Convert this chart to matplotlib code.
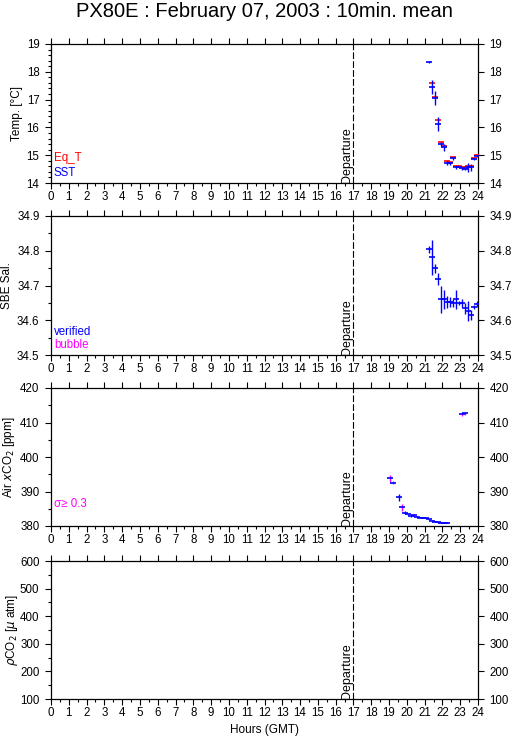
import matplotlib
matplotlib.use("Agg")
import matplotlib.pyplot as plt
import matplotlib.transforms as mtransforms
from matplotlib.ticker import MultipleLocator

plt.rcParams['font.family'] = ['Liberation Sans', 'DejaVu Sans']

# ---------------- data ----------------
title = "PX80E : February 07, 2003 : 10min. mean"
hour_ticks = list(range(0, 25))
departure_hour = 17

temp_hours = [21.25, 21.42, 21.58, 21.75, 21.92, 22.08, 22.25, 22.42, 22.58,
              22.75, 22.92, 23.08, 23.25, 23.42, 23.58, 23.75, 23.92]
eq_t = [None, 17.59, 17.10, 16.26, 15.46, 15.34, 14.80, 14.74, 14.92,
        14.61, 14.62, 14.56, 14.54, 14.61, 14.62, 14.89, 15.02]
sst = [18.36, 17.46, 17.05, 16.11, 15.40, 15.28, 14.71, 14.71, 14.89,
       14.56, 14.59, 14.53, 14.50, 14.56, 14.56, 14.86, 14.98]
sst_sd = [0.04, 0.25, 0.25, 0.25, 0.08, 0.12, 0.08, 0.06, 0.05,
          0.05, 0.03, 0.05, 0.05, 0.17, 0.12, 0.03, 0.03]

sal_hours = temp_hours
sal = [34.804, 34.781, 34.750, 34.718, 34.660, 34.660, 34.653, 34.653, 34.649,
       34.660, 34.649, 34.649, 34.634, 34.627, 34.615, 34.637, 34.646]
sal_sd = [0.010, 0.050, 0.013, 0.017, 0.040, 0.027, 0.018, 0.014, 0.012,
          0.027, 0.005, 0.012, 0.016, 0.029, 0.015, 0.006, 0.008]

air_hours = [19.08, 19.25, 19.58, 19.75, 19.92, 20.08, 20.25, 20.42, 20.58,
             20.75, 20.92, 21.08, 21.25, 21.42, 21.58, 21.75, 21.92, 22.08,
             22.25, 23.08, 23.25]
air_xco2 = [393.8, 392.6, 388.3, 385.4, 383.9, 383.4, 382.9, 383.1, 382.7,
            382.3, 382.3, 382.3, 381.9, 381.5, 381.3, 381.1, 381.0, 381.0,
            381.0, 412.4, 412.7]
air_sd = [1.0, 0.5, 1.0, 1.0, 0.4, 0.2, 0.2, 0.4, 0.1,
          0.1, 0.1, 0.1, 0.1, 0.1, 0.1, 0.1, 0.1, 0.1,
          0.1, 0.4, 0.4]
air_high_sd = [True, True, False, True, False, False, False, True, False,
               False, False, False, False, False, False, False, False, False,
               False, True, True]

ylabels = ["Temp. [°C]", "SBE Sal.", r"Air $x$CO$_2$ [ppm]", r"$\rho$CO$_2$ [$\mu$ atm]"]
ylabel_x = [17, 7, 9, 12]
ylims = [(14, 19), (34.5, 34.9), (380, 420), (100, 600)]
ymajor = [1, 0.1, 10, 100]
yminor = [0.2, 0.05, 5, 50]
yfmt = ["{:.0f}", "{:.1f}", "{:.0f}", "{:.0f}"]

BLUE = '#0000ff'
RED = '#ff0000'
MAG = '#ff00ff'

W, H = 515, 739
fig = plt.figure(figsize=(W / 100, H / 100), dpi=100)

ax_left, ax_right = 51, 478
tops = [44, 216, 388, 561]
bottoms = [183, 355, 526, 699]
AW = ax_right - ax_left

axes = []
for i in range(4):
    ax = fig.add_axes([ax_left / W, 1 - bottoms[i] / H,
                       AW / W, (bottoms[i] - tops[i]) / H])
    axes.append(ax)
    ax.set_xlim(0, 24)
    ax.set_ylim(*ylims[i])
    ax.set_xticks(hour_ticks)
    ax.set_xticklabels([str(h) for h in hour_ticks])
    ax.xaxis.set_minor_locator(MultipleLocator(0.5))
    ax.yaxis.set_minor_locator(MultipleLocator(yminor[i]))
    lo, hi = ylims[i]
    n = int(round((hi - lo) / ymajor[i]))
    yt = [lo + k * ymajor[i] for k in range(n + 1)]
    ax.set_yticks(yt)
    ax.set_yticklabels([yfmt[i].format(v) for v in yt])
    ax.tick_params(axis='both', which='both', direction='out', width=0.8,
                   colors='black', labelsize=8.3)
    ax.tick_params(axis='both', which='major', length=4.3)
    ax.tick_params(axis='both', which='minor', length=2.2)
    ax.tick_params(axis='x', top=True, labeltop=False, bottom=True,
                   labelbottom=True, pad=1.5)
    ax.tick_params(axis='y', left=True, right=True, labelleft=True,
                   labelright=True, pad=4)
    for s in ax.spines.values():
        s.set_linewidth(0.9)
    ax.axvline(departure_hour, color='black', lw=0.8, dashes=(6, 2))
    trans = mtransforms.blended_transform_factory(ax.transData, ax.transAxes)
    ax.text(departure_hour, 0.0, "Departure", rotation=90, ha='right',
            va='bottom', fontsize=9, transform=trans)
    yc = (tops[i] + bottoms[i]) / 2
    fig.text(ylabel_x[i] / W, 1 - yc / H, ylabels[i], rotation=90, ha='center',
             va='center', fontsize=8.5)

# panel 1: temperatures
ax = axes[0]
eq_h = [h for h, v in zip(temp_hours, eq_t) if v is not None]
eq_v = [v for v in eq_t if v is not None]
ax.plot(eq_h, eq_v, ls='none', marker='_', ms=3.8, mew=1.2, color=RED, zorder=3)
ax.errorbar(temp_hours, sst, yerr=sst_sd, fmt='_', ms=3.8, mew=1.2,
            color=BLUE, ecolor=BLUE, elinewidth=1, capsize=0, zorder=4)
ax.text(3 / AW, (183 - 158) / 139, "Eq_T", color=RED, fontsize=8.3, ha='left',
        va='center', transform=ax.transAxes)
ax.text(3 / AW, (183 - 172.7) / 139, "SST", color=BLUE,
        fontsize=8.3, ha='left', va='center', transform=ax.transAxes)

# panel 2: salinity
ax = axes[1]
ax.errorbar(sal_hours, sal, yerr=sal_sd, fmt='_', ms=3.8, mew=1.2,
            color=BLUE, ecolor=BLUE, elinewidth=1, capsize=0, zorder=4)
ax.text(3 / AW, (355 - 332.3) / 139, "verified", color=BLUE,
        fontsize=8.3, ha='left', va='center', transform=ax.transAxes)
ax.text(3 / AW, (355 - 345) / 139, "bubble", color=MAG,
        fontsize=8.3, ha='left', va='center', transform=ax.transAxes)

# panel 3: air xCO2
ax = axes[2]
for h, v, s, f in zip(air_hours, air_xco2, air_sd, air_high_sd):
    ax.errorbar([h], [v], yerr=[s], fmt='none', ecolor=MAG if f else BLUE,
                elinewidth=1, capsize=0, zorder=3)
ax.plot(air_hours, air_xco2, ls='none', marker='_', ms=3.8, mew=1.2,
        color=BLUE, zorder=4)
ax.text(3 / AW, (526 - 504) / 138, "σ≥ 0.3", color=MAG,
        fontsize=8.3, ha='left', va='center', transform=ax.transAxes)

fig.text(0.5 * (ax_left + ax_right) / W, 1 - 11.5 / H, title, ha='center',
         va='center', fontsize=14.5)
fig.text(0.5 * (ax_left + ax_right) / W, 1 - 730 / H, "Hours (GMT)",
         ha='center', va='center', fontsize=8.5)

fig.savefig("out.png", dpi=100)
